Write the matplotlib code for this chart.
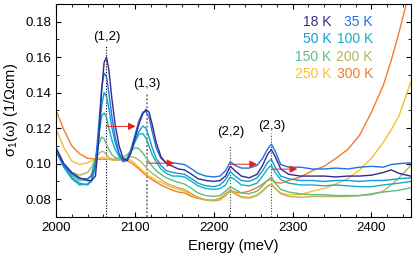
import matplotlib
matplotlib.use("Agg")
import matplotlib.pyplot as plt
from matplotlib.ticker import MultipleLocator

plt.rcParams['font.family'] = ['Liberation Sans', 'DejaVu Sans']

# --- energi (meV) ---
E = [2000, 2010, 2020, 2030, 2040, 2045, 2050, 2054, 2058, 2061, 2064, 2067, 2071, 2075,
     2080, 2085, 2090, 2095, 2100, 2105, 2110, 2114, 2118, 2122, 2127, 2133, 2140, 2148,
     2155, 2163, 2172, 2180, 2190, 2200, 2208, 2215, 2221, 2227, 2235, 2245, 2255, 2262,
     2268, 2273, 2278, 2285, 2295, 2310, 2325, 2340, 2355, 2370, 2385, 2400, 2415, 2425,
     2435, 2450]

s18 = [0.109, 0.100, 0.095, 0.092, 0.0905, 0.0905, 0.093, 0.112, 0.142, 0.157, 0.160, 0.153,
       0.136, 0.122, 0.110, 0.103, 0.1015, 0.106, 0.114, 0.122, 0.128, 0.1305, 0.129, 0.122,
       0.112, 0.104, 0.100, 0.0985, 0.097, 0.0965, 0.094, 0.0915, 0.0905, 0.090, 0.0905,
       0.093, 0.0985, 0.096, 0.093, 0.092, 0.094, 0.099, 0.105, 0.108, 0.104, 0.097, 0.094,
       0.093, 0.093, 0.093, 0.0925, 0.093, 0.093, 0.0935, 0.095, 0.0965, 0.0945, 0.093]
s35 = [0.108, 0.099, 0.094, 0.0915, 0.0915, 0.093, 0.100, 0.121, 0.143, 0.151, 0.149, 0.140,
       0.126, 0.115, 0.106, 0.1015, 0.1025, 0.108, 0.116, 0.124, 0.129, 0.1295, 0.126, 0.118,
       0.109, 0.103, 0.1005, 0.1005, 0.100, 0.0995, 0.097, 0.0945, 0.093, 0.0925, 0.093,
       0.096, 0.101, 0.099, 0.0975, 0.0975, 0.099, 0.103, 0.108, 0.111, 0.107, 0.0995, 0.098,
       0.098, 0.097, 0.097, 0.0975, 0.097, 0.098, 0.0985, 0.098, 0.0995, 0.100, 0.1005]
s50 = [0.107, 0.098, 0.092, 0.089, 0.088, 0.090, 0.098, 0.115, 0.133, 0.140, 0.138, 0.131,
       0.120, 0.112, 0.105, 0.101, 0.102, 0.107, 0.113, 0.118, 0.1212, 0.120, 0.115, 0.109,
       0.103, 0.099, 0.096, 0.095, 0.0945, 0.094, 0.0915, 0.089, 0.0875, 0.087, 0.088, 0.091,
       0.0955, 0.093, 0.0905, 0.090, 0.092, 0.096, 0.1005, 0.1025, 0.098, 0.093, 0.0915,
       0.0905, 0.0905, 0.090, 0.0905, 0.0905, 0.090, 0.0905, 0.0905, 0.091, 0.0915, 0.092]
s100 = [0.107, 0.098, 0.0915, 0.088, 0.0885, 0.091, 0.101, 0.115, 0.127, 0.1285, 0.126, 0.120,
        0.113, 0.108, 0.104, 0.102, 0.103, 0.107, 0.112, 0.1165, 0.117, 0.1145, 0.110, 0.105,
        0.101, 0.097, 0.0945, 0.093, 0.093, 0.0925, 0.090, 0.0875, 0.086, 0.0855, 0.086,
        0.088, 0.0925, 0.091, 0.088, 0.0875, 0.089, 0.093, 0.097, 0.099, 0.095, 0.091, 0.089,
        0.088, 0.088, 0.0875, 0.088, 0.0875, 0.087, 0.087, 0.088, 0.0885, 0.089, 0.090]
s150 = [0.107, 0.099, 0.093, 0.0905, 0.091, 0.094, 0.103, 0.111, 0.115, 0.114, 0.111, 0.108,
        0.105, 0.1035, 0.103, 0.1035, 0.105, 0.107, 0.109, 0.1085, 0.106, 0.1035, 0.101,
        0.0985, 0.096, 0.094, 0.092, 0.0905, 0.0895, 0.0885, 0.086, 0.0835, 0.082, 0.0815,
        0.082, 0.0845, 0.087, 0.0855, 0.0835, 0.083, 0.0845, 0.0875, 0.0905, 0.0925, 0.089,
        0.0855, 0.084, 0.083, 0.0825, 0.0825, 0.082, 0.082, 0.082, 0.083, 0.084, 0.0845,
        0.085, 0.0865]
s200 = [0.107, 0.099, 0.095, 0.0935, 0.095, 0.098, 0.103, 0.1055, 0.107, 0.1065, 0.105, 0.1035,
        0.1025, 0.102, 0.102, 0.1025, 0.103, 0.104, 0.1035, 0.102, 0.100, 0.098, 0.096,
        0.0945, 0.093, 0.091, 0.089, 0.0875, 0.0865, 0.0855, 0.083, 0.081, 0.0795, 0.079,
        0.0795, 0.082, 0.0845, 0.083, 0.081, 0.0805, 0.082, 0.0845, 0.087, 0.0885, 0.086,
        0.083, 0.0815, 0.081, 0.0815, 0.0815, 0.0815, 0.0815, 0.082, 0.0825, 0.0845, 0.088,
        0.092, 0.099]
s250 = [0.1195, 0.109, 0.1015, 0.0995, 0.1005, 0.1015, 0.1025, 0.103, 0.1035, 0.1035, 0.103,
        0.1025, 0.102, 0.102, 0.102, 0.1025, 0.1025, 0.102, 0.100, 0.098, 0.096, 0.0945,
        0.093, 0.092, 0.0905, 0.0895, 0.088, 0.0865, 0.0855, 0.0845, 0.0825, 0.081, 0.0795,
        0.0795, 0.080, 0.0825, 0.0845, 0.0835, 0.0815, 0.081, 0.0825, 0.085, 0.0875, 0.0885,
        0.086, 0.0835, 0.0825, 0.0825, 0.0845, 0.086, 0.0885, 0.0915, 0.0965, 0.103, 0.112,
        0.119, 0.127, 0.146]
s300 = [0.130, 0.119, 0.110, 0.1055, 0.103, 0.1028, 0.1025, 0.1025, 0.1025, 0.1025, 0.1025,
        0.1025, 0.1025, 0.1025, 0.1025, 0.1022, 0.102, 0.1005, 0.099, 0.097, 0.095, 0.0935,
        0.092, 0.091, 0.0895, 0.088, 0.0865, 0.085, 0.084, 0.0835, 0.0815, 0.0805, 0.0795,
        0.0795, 0.0805, 0.083, 0.085, 0.084, 0.0835, 0.0845, 0.0865, 0.0885, 0.0905, 0.091,
        0.0895, 0.089, 0.0905, 0.0925, 0.096, 0.0985, 0.103, 0.108, 0.116, 0.129, 0.144,
        0.158, 0.174, 0.200]

temps = ["18 K", "35 K", "50 K", "100 K", "150 K", "200 K", "250 K", "300 K"]
series = [s18, s35, s50, s100, s150, s200, s250, s300]
colors = ["#352a87", "#1f72e4", "#109cd8", "#14afc3", "#5dbd85", "#b5b65c", "#fbbd2e", "#f47c2a"]

fig = plt.figure(figsize=(4.15, 2.61), dpi=100)
ax = fig.add_axes([0.135, 0.169, 0.855, 0.816])

# --- garis vertikal puncak ---
ax.plot([2064, 2064], [0.07, 0.167], color="black", lw=0.8, ls=(0, (1, 1.5)))
ax.plot([2115, 2115], [0.07, 0.140], color="#888888", lw=1.4, ls=(0, (1, 1)))
ax.plot([2221, 2221], [0.07, 0.110], color="#444444", lw=0.8, ls=(0, (1, 1.5)))
ax.plot([2273, 2273], [0.07, 0.1175], color="#444444", lw=0.8, ls=(0, (1, 1.5)))

# --- kurva tiap temperatur ---
for s, c in zip(series[::-1], colors[::-1]):
    ax.plot(E, s, color=c, lw=1.0)

# --- label puncak ---
ax.text(2064, 0.1716, "(1,2)", ha="center", va="center", fontsize=9.5)
ax.text(2115, 0.1450, "(1,3)", ha="center", va="center", fontsize=9.5)
ax.text(2221, 0.1176, "(2,2)", ha="center", va="center", fontsize=9.5)
ax.text(2273, 0.1210, "(2,3)", ha="center", va="center", fontsize=9.5)

# --- panah merah ---
arrows = [(2064, 2101, 0.121), (2115, 2150, 0.1003), (2221, 2255, 0.0997), (2273, 2306, 0.0969)]
for x0, x1, y in arrows:
    ax.annotate("", xy=(x1, y), xytext=(x0, y), zorder=5,
                arrowprops=dict(arrowstyle="-|>", color="#e8201c", lw=0.7,
                                mutation_scale=11, shrinkA=0, shrinkB=0))

# --- legenda teks berwarna ---
xs = [0.777, 0.893]
ys = [0.917, 0.834, 0.753, 0.671]
for i, (t, c) in enumerate(zip(temps, colors)):
    ax.text(xs[i % 2], ys[i // 2], t, color=c, ha="right", va="center",
            fontsize=10, transform=ax.transAxes)

ax.set_xlim(2000, 2450)
ax.set_ylim(0.07, 0.19)
ax.xaxis.set_major_locator(MultipleLocator(100))
ax.xaxis.set_minor_locator(MultipleLocator(20))
ax.yaxis.set_minor_locator(MultipleLocator(0.01))
ax.tick_params(which="both", direction="in", top=True, right=True, labelsize=9.5)
ax.tick_params(which="major", length=3.5)
ax.tick_params(which="minor", length=2.5)
ax.set_yticks([0.08, 0.10, 0.12, 0.14, 0.16, 0.18])
ax.set_yticklabels(["0.08", "0.10", "0.12", "0.14", "0.16", "0.18"])

ax.set_xlabel("Energy (meV)", fontsize=10.5)
ax.set_ylabel("σ$_\\mathregular{1}$(ω) (1/Ωcm)", fontsize=10.5)

fig.savefig("out.png", dpi=100)
